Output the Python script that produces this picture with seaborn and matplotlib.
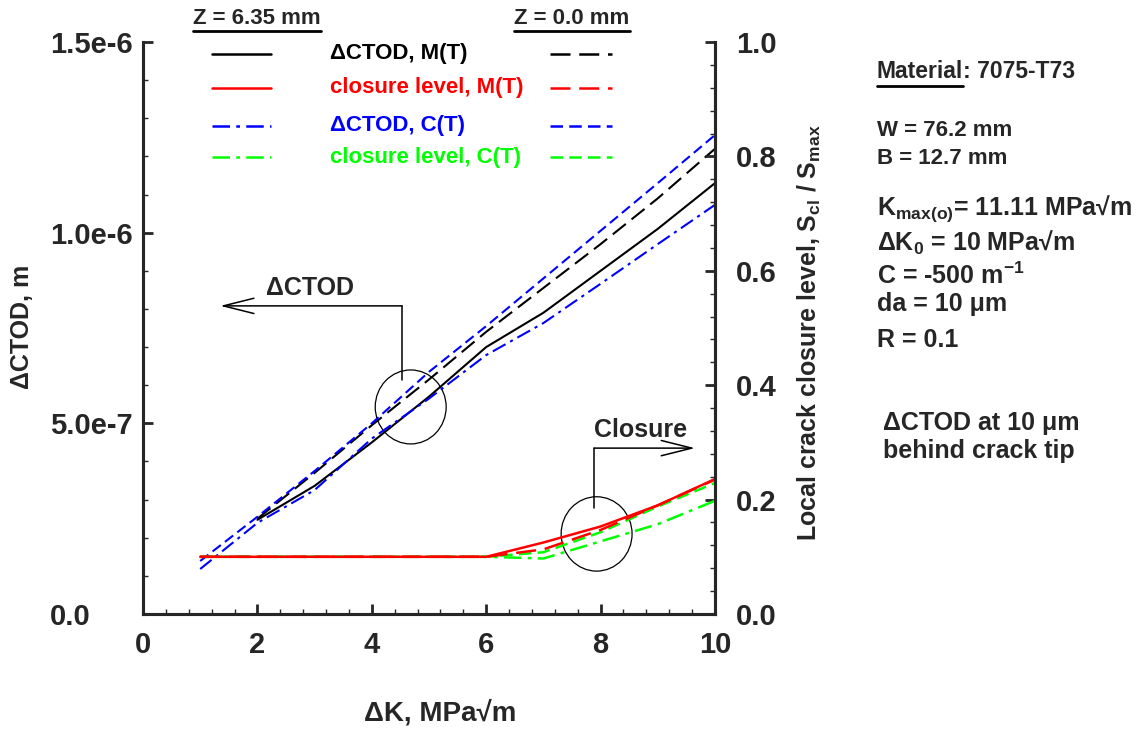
import matplotlib
matplotlib.use('Agg')
import matplotlib.pyplot as plt
import seaborn as sns
from matplotlib.lines import Line2D
from matplotlib.patches import Ellipse
from matplotlib.ticker import MultipleLocator

# ── DATA ──────────────────────────────────────────────────────
dk_mt = [2, 3, 4, 5, 6, 7, 8, 9, 10]
ctod_mt_z635 = [2.47e-7, 3.36e-7, 4.50e-7, 5.70e-7, 7.00e-7, 7.90e-7, 9.00e-7, 10.10e-7, 11.30e-7]
ctod_mt_z0 = [2.50e-7, 3.70e-7, 4.95e-7, 6.15e-7, 7.40e-7, 8.55e-7, 9.70e-7, 10.90e-7, 12.20e-7]

dk_ct = [1, 2, 3, 4, 5, 6, 7, 8, 9, 10]
ctod_ct_z635 = [1.18e-7, 2.39e-7, 3.25e-7, 4.60e-7, 5.65e-7, 6.79e-7, 7.63e-7, 8.66e-7, 9.70e-7, 10.73e-7]
ctod_ct_z0 = [1.39e-7, 2.55e-7, 3.75e-7, 5.00e-7, 6.35e-7, 7.55e-7, 8.80e-7, 10.05e-7, 11.30e-7, 12.56e-7]

dk_cl = [1, 2, 3, 4, 5, 6, 7, 8, 9, 10]
clos_mt_z635 = [0.1, 0.1, 0.1, 0.1, 0.1, 0.1, 0.125, 0.153, 0.190, 0.236]
clos_mt_z0 = [0.1, 0.1, 0.1, 0.1, 0.1, 0.1, 0.113, 0.147, 0.190, 0.235]
clos_ct_z635 = [0.1, 0.1, 0.1, 0.1, 0.1, 0.1, 0.097, 0.127, 0.157, 0.198]
clos_ct_z0 = [0.1, 0.1, 0.1, 0.1, 0.1, 0.1, 0.108, 0.143, 0.188, 0.229]

legend_labels = ['ΔCTOD, M(T)', 'closure level, M(T)', 'ΔCTOD, C(T)', 'closure level, C(T)']
# (text, y pixel, font size)
info_lines = [
    ('W = 76.2 mm', 131, 16), ('B = 12.7 mm', 159, 16),
    ('K$_{max(o)}$= 11.11 MPa√m', 209, 18), ('ΔK$_0$ = 10 MPa√m', 243, 18),
    ('C = -500 m$^{-1}$', 276, 18), ('da = 10 μm', 304, 18), ('R = 0.1', 340, 18),
]

# ── STYLE ─────────────────────────────────────────────────────
sns.set_style('ticks')
plt.rcParams['font.family'] = ['Liberation Sans', 'DejaVu Sans']
plt.rcParams['font.weight'] = 'bold'
plt.rcParams['axes.labelweight'] = 'bold'
plt.rcParams['mathtext.fontset'] = 'custom'
plt.rcParams['mathtext.rm'] = 'Liberation Sans:bold'
plt.rcParams['mathtext.bf'] = 'Liberation Sans:bold'
plt.rcParams['mathtext.it'] = 'Liberation Sans:bold'
plt.rcParams['mathtext.default'] = 'rm'

BLUE, RED, GREEN = '#0000ff', '#ff0000', '#00ff00'
LS_SOLID = '-'
LS_LONG = (0, (8, 3.5))
LS_SHORT = (0, (5, 2.5))
LS_DASHDOT = (0, (7, 2.5, 1.5, 2.5))
FS = 18        # annotation / info text
FS_LEG = 16    # legend text
FS_TICK = 21

W, H = 1139, 731
fx = lambda px: px / W
fy = lambda py: 1 - py / H

fig = plt.figure(figsize=(W / 100, H / 100), dpi=100)
ax = fig.add_axes([fx(143), fy(614), 572 / W, 572 / H])
ax2 = ax.twinx()

# ── CURVES ────────────────────────────────────────────────────
sns.lineplot(x=dk_mt, y=ctod_mt_z635, ax=ax, color='black', lw=1.5, linestyle=LS_SOLID)
sns.lineplot(x=dk_mt, y=ctod_mt_z0, ax=ax, color='black', lw=1.5, linestyle=LS_LONG)
sns.lineplot(x=dk_ct, y=ctod_ct_z635, ax=ax, color=BLUE, lw=1.5, linestyle=LS_DASHDOT)
sns.lineplot(x=dk_ct, y=ctod_ct_z0, ax=ax, color=BLUE, lw=1.5, linestyle=LS_SHORT)

sns.lineplot(x=dk_cl, y=clos_ct_z635, ax=ax2, color=GREEN, lw=1.8, linestyle=LS_DASHDOT)
sns.lineplot(x=dk_cl, y=clos_ct_z0, ax=ax2, color=GREEN, lw=1.8, linestyle=LS_SHORT)
sns.lineplot(x=dk_cl, y=clos_mt_z0, ax=ax2, color=RED, lw=1.8, linestyle=LS_LONG)
sns.lineplot(x=dk_cl, y=clos_mt_z635, ax=ax2, color=RED, lw=1.8, linestyle=LS_SOLID)

# ── AXES ──────────────────────────────────────────────────────
ax.set_xlim(0, 10)
ax.set_ylim(0, 1.5e-6)
ax2.set_ylim(0, 1.0)

ax.set_xticks([0, 2, 4, 6, 8, 10])
ax.set_xticklabels(['0', '2', '4', '6', '8', '10'])
ax.xaxis.set_minor_locator(MultipleLocator(0.4))
ax.set_yticks([0, 5e-7, 1e-6, 1.5e-6])
ax.set_yticklabels(['0.0', '5.0e-7', '1.0e-6', '1.5e-6'])
ax.yaxis.set_minor_locator(MultipleLocator(1e-7))
ax2.set_yticks([0, 0.2, 0.4, 0.6, 0.8, 1.0])
ax2.set_yticklabels(['0.0', '0.2', '0.4', '0.6', '0.8', '1.0'])
ax2.yaxis.set_minor_locator(MultipleLocator(0.04))

for a in (ax, ax2):
    a.spines['top'].set_visible(False)
    for s in ('left', 'right', 'bottom'):
        a.spines[s].set_linewidth(2.2)
ax.tick_params(axis='both', which='major', direction='in', length=7, width=2,
               labelsize=FS_TICK, top=False, right=False)
ax.tick_params(axis='both', which='minor', direction='in', length=3.5, width=1,
               top=False, right=False)
ax.tick_params(axis='x', which='major', pad=12)
ax.tick_params(axis='y', which='major', pad=(143 - 50) * 0.72)
ax2.tick_params(axis='y', which='major', direction='in', length=7, width=2,
                labelsize=FS_TICK, pad=15, left=False)
ax2.tick_params(axis='y', which='minor', direction='in', length=3.5, width=1, left=False)
for lab in ax.get_xticklabels() + ax.get_yticklabels() + ax2.get_yticklabels():
    lab.set_fontweight('bold')
for lab in ax.get_yticklabels():
    lab.set_horizontalalignment('left')

ax.set_xlabel('ΔK, MPa√m', fontsize=20, fontweight='bold')
ax.xaxis.set_label_coords((440 - 143) / 572, (614 - 713) / 572)
ax.xaxis.label.set_va('center')
ax.set_ylabel('ΔCTOD, m', fontsize=FS, fontweight='bold')
ax.yaxis.set_label_coords((22 - 143) / 572, (614 - 327) / 572)
ax.yaxis.label.set_va('center')
ax2.set_ylabel('Local crack closure level, S$_{cl}$ / S$_{max}$', fontsize=FS, fontweight='bold')
ax2.yaxis.set_label_coords((809 - 143) / 572, (614 - 333) / 572)
ax2.yaxis.label.set_va('center')

# ── ANNOTATIONS ───────────────────────────────────────────────
ax.add_patch(Ellipse((4.68, 5.43e-7), 1.24, 1.94e-7, fill=False, lw=0.9, color='black'))
ax.plot([4.53, 4.53], [6.14e-7, 8.08e-7], color='black', lw=1.1)
ax.annotate('', xy=(1.35, 8.08e-7), xytext=(4.53, 8.08e-7),
            arrowprops=dict(arrowstyle='->,head_length=2.2,head_width=0.55', lw=1.1, color='black',
                            shrinkA=0, shrinkB=0))
ax.text(2.92, 8.55e-7, 'ΔCTOD', fontsize=FS, fontweight='bold', ha='center', va='center')

ax2.add_patch(Ellipse((7.93, 0.14), 1.24, 0.13, fill=False, lw=0.9, color='black'))
ax2.plot([7.89, 7.89], [0.185, 0.29], color='black', lw=1.1)
ax2.annotate('', xy=(9.65, 0.29), xytext=(7.89, 0.29),
             arrowprops=dict(arrowstyle='->,head_length=2.2,head_width=0.55', lw=1.1, color='black',
                             shrinkA=0, shrinkB=0))
ax2.text(8.69, 0.322, 'Closure', fontsize=FS, fontweight='bold', ha='center', va='center')

# ── LEGEND (drawn by hand, two columns of samples) ────────────
renderer = fig.canvas.get_renderer()


def underlined(xc, yc, s, size, ha='center'):
    t = fig.text(fx(xc), fy(yc), s, fontsize=size, fontweight='bold', ha=ha, va='center')
    bb = t.get_window_extent(renderer)
    y_u = bb.y0 - 2
    fig.add_artist(Line2D([bb.x0 / W, bb.x1 / W], [y_u / H, y_u / H],
                          transform=fig.transFigure, color='black', lw=2))
    return bb


underlined(257, 18, 'Z = 6.35 mm', FS_LEG)
underlined(572, 18, 'Z = 0.0 mm', FS_LEG)

rows = [54, 88, 126, 157]
left_styles = [('black', LS_SOLID), (RED, LS_SOLID), (BLUE, LS_DASHDOT), (GREEN, LS_DASHDOT)]
right_styles = [('black', LS_LONG), (RED, LS_LONG), (BLUE, LS_SHORT), (GREEN, LS_SHORT)]
for yrow, lab, (cl, lsl), (cr, lsr) in zip(rows, legend_labels, left_styles, right_styles):
    fig.add_artist(Line2D([fx(212), fx(271)], [fy(yrow)] * 2, transform=fig.transFigure,
                          color=cl, lw=1.8, linestyle=lsl))
    fig.add_artist(Line2D([fx(550), fx(612)], [fy(yrow)] * 2, transform=fig.transFigure,
                          color=cr, lw=1.8, linestyle=lsr))
    fig.text(fx(330), fy(yrow), lab, color=cl, fontsize=FS_LEG, fontweight='bold',
             ha='left', va='center')

# ── INFO BLOCK ────────────────────────────────────────────────
bb = underlined(877, 72, 'Material', 16.5, ha='left')
fig.text(bb.x1 / W, fy(72), ': 7075-T73', fontsize=16.5, fontweight='bold', ha='left', va='center')
for txt, yl, size in info_lines:
    fig.text(fx(877), fy(yl), txt, fontsize=size, fontweight='bold', ha='left', va='center')
fig.text(fx(883), fy(423), 'ΔCTOD at 10 μm', fontsize=FS, fontweight='bold', ha='left', va='center')
fig.text(fx(883), fy(451), 'behind crack tip', fontsize=FS, fontweight='bold', ha='left', va='center')

fig.savefig('out.png', dpi=100)
